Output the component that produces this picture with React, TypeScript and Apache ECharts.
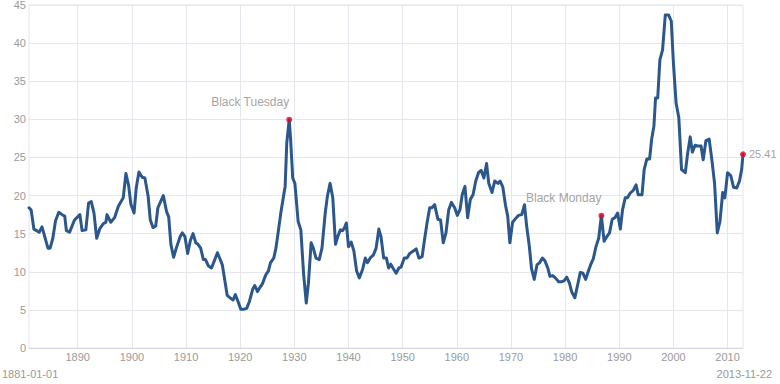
import React, { useEffect, useRef } from "react";
import * as echarts from "echarts";

// Decimal year of each sample
const years: number[] = [
  1881.0, 1881.4, 1881.9, 1882.9, 1883.4, 1884.5, 1884.9, 1885.4, 1885.9, 1886.5,
  1887.3, 1887.6, 1887.9, 1888.5, 1889.4, 1890.4, 1890.8, 1891.5, 1892.0, 1892.5,
  1893.0, 1893.5, 1894.1, 1894.7, 1895.2, 1895.4, 1896.1, 1896.8, 1897.5, 1898.4,
  1898.9, 1899.4, 1899.8, 1900.4, 1900.8, 1901.3, 1901.9, 1902.4, 1903.0, 1903.4,
  1903.9, 1904.4, 1904.8, 1905.8, 1906.4, 1906.8, 1907.2, 1907.7, 1908.2, 1908.9,
  1909.3, 1909.8, 1910.3, 1910.8, 1911.3, 1911.8, 1912.2, 1912.7, 1913.2, 1913.6,
  1914.1, 1914.7, 1915.1, 1915.8, 1916.2, 1916.7, 1917.2, 1917.6, 1918.1, 1918.7,
  1919.1, 1919.6, 1920.1, 1920.7, 1921.2, 1921.7, 1922.3, 1922.7, 1923.2, 1923.6,
  1924.1, 1924.4, 1924.8, 1925.2, 1925.6, 1926.2, 1926.6, 1927.0, 1927.5, 1928.0,
  1928.3, 1928.6, 1929.05, 1929.3, 1929.7, 1930.1, 1930.7, 1931.2, 1931.7, 1932.2,
  1932.6, 1933.1, 1933.5, 1934.0, 1934.6, 1935.1, 1935.7, 1936.1, 1936.6, 1937.1,
  1937.6, 1938.0, 1938.5, 1938.9, 1939.2, 1939.6, 1940.0, 1940.5, 1941.0, 1941.5,
  1942.0, 1942.6, 1943.1, 1943.5, 1944.1, 1944.6, 1945.1, 1945.6, 1946.0, 1946.5,
  1947.0, 1947.4, 1947.8, 1948.2, 1948.8, 1949.3, 1949.7, 1950.3, 1950.8, 1951.3,
  1951.9, 1952.5, 1953.0, 1953.6, 1954.0, 1954.5, 1955.0, 1955.4, 1955.9, 1956.5,
  1957.0, 1957.5, 1958.0, 1958.5, 1959.0, 1959.6, 1960.1, 1960.6, 1961.0, 1961.5,
  1962.0, 1962.5, 1963.0, 1963.5, 1964.0, 1964.5, 1965.0, 1965.5, 1965.9, 1966.5,
  1967.0, 1967.6, 1968.0, 1968.5, 1969.0, 1969.4, 1969.8, 1970.3, 1971.0, 1971.4,
  1972.0, 1972.5, 1972.9, 1973.4, 1973.8, 1974.3, 1974.8, 1975.3, 1975.8, 1976.3,
  1976.8, 1977.2, 1977.7, 1978.2, 1978.8, 1979.4, 1979.8, 1980.3, 1980.8, 1981.2,
  1981.8, 1982.2, 1982.8, 1983.3, 1983.8, 1984.3, 1984.7, 1985.2, 1985.7, 1986.2,
  1986.7, 1987.2, 1987.7, 1988.2, 1988.7, 1989.2, 1989.7, 1990.2, 1990.6, 1991.1,
  1991.5, 1992.0, 1992.6, 1993.1, 1993.5, 1994.2, 1994.6, 1995.1, 1995.6, 1996.0,
  1996.4, 1996.7, 1997.1, 1997.5, 1998.0, 1998.5, 1999.1, 1999.6, 2000.0, 2000.5,
  2001.0, 2001.5, 2002.2, 2002.6, 2003.1, 2003.5, 2004.0, 2004.4, 2005.1, 2005.5,
  2006.0, 2006.6, 2007.1, 2007.6, 2008.1, 2008.6, 2009.1, 2009.5, 2010.0, 2010.6,
  2011.1, 2011.7, 2012.2, 2012.6, 2012.85,
];

// Shiller P/E (CAPE) values
const cape: number[] = [
  18.4, 18.1, 15.6, 15.2, 15.9, 13.1, 13.1, 14.4, 16.7, 17.8,
  17.4, 17.3, 15.4, 15.2, 16.8, 17.5, 15.4, 15.5, 19.0, 19.2,
  17.7, 14.4, 15.7, 16.3, 16.5, 17.5, 16.5, 17.1, 18.6, 19.7,
  22.9, 21.3, 18.9, 17.7, 21.0, 23.1, 22.4, 22.3, 19.9, 16.8,
  15.8, 16.0, 18.4, 20.0, 17.9, 17.2, 13.6, 11.9, 13.1, 14.6,
  15.1, 14.6, 12.4, 14.1, 15.0, 13.8, 13.6, 13.1, 11.6, 11.6,
  10.8, 10.5, 11.2, 12.5, 11.8, 10.9, 8.7, 6.9, 6.6, 6.3,
  7.0, 6.1, 5.1, 5.1, 5.2, 6.1, 7.7, 8.2, 7.4, 7.9,
  8.4, 9.0, 9.7, 10.1, 11.2, 11.8, 13.1, 15.1, 17.7, 19.9,
  21.2, 26.9, 29.95, 27.5, 22.3, 21.6, 16.6, 15.5, 9.8, 5.9,
  8.5, 13.8, 13.1, 11.8, 11.6, 13.1, 17.7, 19.9, 21.6, 19.7,
  13.6, 14.6, 15.5, 15.4, 15.7, 16.4, 13.3, 13.9, 12.7, 10.1,
  9.2, 10.3, 11.8, 11.2, 11.9, 12.2, 13.1, 15.6, 14.6, 11.8,
  11.8, 10.5, 11.0, 10.5, 9.8, 10.5, 10.6, 11.8, 11.8, 12.4,
  12.7, 13.0, 11.8, 12.0, 14.0, 16.4, 18.4, 18.4, 18.8, 16.9,
  16.8, 13.8, 15.1, 18.1, 19.1, 18.4, 17.4, 18.2, 20.1, 21.2,
  17.1, 19.5, 20.1, 21.9, 23.0, 23.3, 22.3, 24.2, 21.6, 20.4,
  21.9, 21.6, 21.9, 21.1, 18.7, 17.3, 13.8, 16.5, 17.1, 17.4,
  17.5, 18.8, 16.0, 13.3, 10.4, 9.0, 10.9, 11.2, 11.8, 11.4,
  10.5, 9.4, 9.5, 9.2, 8.7, 8.7, 8.8, 9.3, 8.5, 7.4,
  6.6, 7.9, 9.9, 9.8, 9.0, 10.1, 10.9, 11.7, 13.3, 14.4,
  17.36, 14.0, 14.6, 15.1, 16.9, 17.1, 17.7, 15.6, 18.1, 19.7,
  19.7, 20.3, 20.7, 21.4, 20.1, 20.1, 23.4, 24.8, 24.8, 27.5,
  29.1, 32.8, 32.8, 37.8, 39.1, 43.7, 43.7, 42.9, 37.4, 32.1,
  30.2, 23.4, 23.0, 25.4, 27.7, 25.7, 26.6, 26.5, 26.5, 24.7,
  27.2, 27.4, 24.7, 21.6, 15.1, 16.6, 20.4, 19.7, 23.0, 22.6,
  21.1, 21.0, 21.9, 23.4, 25.41,
];

// Highlighted events
const eventYears: number[] = [1929.05, 1986.7, 2012.85];
const eventValues: number[] = [29.95, 17.36, 25.41];
const eventLabels: string[] = ["Black Tuesday", "Black Monday", "25.41"];

// Axis ticks and range labels
const decadeTicks: number[] = [1890, 1900, 1910, 1920, 1930, 1940, 1950, 1960, 1970, 1980, 1990, 2000, 2010];
const yTicks = { min: 0, max: 45, interval: 5 };
const xRange = { min: 1881, max: 2012.85 };
const startLabel = "1881-01-01";
const endLabel = "2013-11-22";

const FONT = "'Liberation Sans', Arial, Helvetica, sans-serif";
const GRID_COLOR = "#e6e6ee";
const TEXT_COLOR = "#9a9a9a";
const NOTE_COLOR = "#8e8a8a";

export default function App() {
  const ref = useRef<HTMLDivElement>(null);

  useEffect(() => {
    if (!ref.current) return;
    const chart = echarts.init(ref.current, undefined, { renderer: "svg" });

    const lineData = years.map((y, i) => [y, cape[i]]);
    const eventData = eventYears.map((y, i) => {
      const isLast = i === eventYears.length - 1;
      return {
        value: [y, eventValues[i]],
        name: eventLabels[i],
        label: isLast
          ? { position: "right", distance: 3, fontSize: 11 }
          : { position: "top", align: "right", distance: 9, fontSize: 12 },
      };
    });

    chart.setOption({
      animation: false,
      textStyle: { fontFamily: FONT },
      grid: {
        left: 29,
        right: 37,
        top: 5,
        bottom: 36,
        show: true,
        borderColor: GRID_COLOR,
        borderWidth: 1,
        outerBoundsMode: "none",
        containLabel: false,
      },
      xAxis: {
        type: "value",
        min: xRange.min,
        max: xRange.max,
        axisLine: { show: true, lineStyle: { color: "#d8d8e2", width: 1 } },
        axisTick: { show: false, customValues: decadeTicks },
        axisLabel: {
          customValues: decadeTicks,
          color: TEXT_COLOR,
          fontSize: 11,
          fontFamily: FONT,
          margin: 3,
          formatter: (v: number) => String(Math.round(v)),
        },
        splitLine: { show: true, lineStyle: { color: GRID_COLOR, width: 1 } },
      },
      yAxis: {
        type: "value",
        min: yTicks.min,
        max: yTicks.max,
        interval: yTicks.interval,
        axisLine: { show: false },
        axisTick: { show: false },
        axisLabel: {
          color: TEXT_COLOR,
          fontSize: 11,
          fontFamily: FONT,
          margin: 3,
        },
        splitLine: { show: true, lineStyle: { color: GRID_COLOR, width: 1 } },
      },
      series: [
        {
          type: "line",
          data: lineData,
          showSymbol: false,
          smooth: false,
          lineStyle: { color: "#2c578c", width: 3, join: "round", cap: "round" },
          itemStyle: { color: "#2c578c" },
          z: 2,
        },
        {
          type: "scatter",
          data: eventData,
          symbol: "circle",
          symbolSize: 6,
          itemStyle: { color: "#d90d2b" },
          label: {
            show: true,
            formatter: (p: any) => p.name,
            color: NOTE_COLOR,
            fontFamily: FONT,
          },
          z: 3,
        },
      ],
      graphic: [
        {
          type: "text",
          left: 2,
          top: 368,
          style: { text: startLabel, fill: TEXT_COLOR, font: `11px ${FONT}` },
        },
        {
          type: "text",
          right: 8,
          top: 368,
          style: { text: endLabel, fill: TEXT_COLOR, font: `11px ${FONT}` },
        },
      ],
    });

    return () => chart.dispose();
  }, []);

  return (
    <div
      ref={ref}
      style={{ position: "fixed", left: 0, top: 0, width: 780, height: 384, background: "#ffffff" }}
    />
  );
}
